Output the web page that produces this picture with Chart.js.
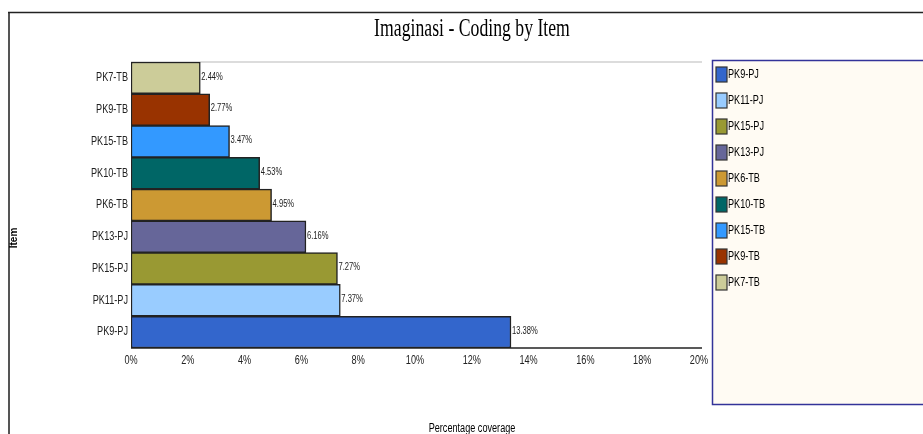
<!DOCTYPE html>
<html><head><meta charset="utf-8">
<script src="https://cdn.jsdelivr.net/npm/chart.js@4/dist/chart.umd.min.js"></script>
<style>html,body{margin:0;padding:0;background:#fff;}#wrap{width:923px;height:434px;position:relative;}</style>
</head><body><div id="wrap"><canvas id="c" width="923" height="434"></canvas></div>
<script>
const categories = ["PK9-PJ","PK11-PJ","PK15-PJ","PK13-PJ","PK6-TB","PK10-TB","PK15-TB","PK9-TB","PK7-TB"];
const coverage = [13.38, 7.37, 7.27, 6.16, 4.95, 4.53, 3.47, 2.77, 2.44];
const barColors = ["#3366CC","#99CCFF","#999933","#666699","#CC9933","#006666","#3399FF","#993300","#CCCC99"];
const xTicks = [0,2,4,6,8,10,12,14,16,18,20];
const titleText = "Imaginasi - Coding by Item";
const xTitle = "Percentage coverage";
const yTitle = "Item";

const SANS = "'Liberation Sans',Arial,sans-serif";
const SQ = 0.76;

function narrowText(ctx, text, x, y, align, font, color) {
  ctx.save();
  ctx.font = font; ctx.fillStyle = color;
  ctx.textAlign = align; ctx.textBaseline = 'middle';
  ctx.translate(x, y); ctx.scale(SQ, 1);
  ctx.fillText(text, 0, 0);
  ctx.restore();
}

const deco = {
  id: 'deco',
  beforeDraw(chart) {
    const ctx = chart.ctx, a = chart.chartArea;
    ctx.save();
    ctx.strokeStyle = '#555'; ctx.lineWidth = 2;
    ctx.beginPath(); ctx.moveTo(9, 12); ctx.lineTo(9, 434); ctx.stroke();
    ctx.strokeStyle = '#222'; ctx.lineWidth = 1.5;
    ctx.beginPath(); ctx.moveTo(8, 12.5); ctx.lineTo(923, 12.5); ctx.stroke();
    ctx.fillStyle = '#000';
    ctx.font = "23px 'Liberation Serif','Times New Roman',serif";
    ctx.textAlign = 'center'; ctx.textBaseline = 'middle';
    ctx.save(); ctx.translate(472, 30); ctx.scale(0.77, 1.05); ctx.fillText(titleText, 0, 0); ctx.restore();
    ctx.strokeStyle = '#dcdcdc'; ctx.lineWidth = 2;
    ctx.beginPath(); ctx.moveTo(a.left, a.top); ctx.lineTo(a.right + 3, a.top); ctx.stroke();
    // legend box
    ctx.fillStyle = '#FFFBF3';
    ctx.fillRect(712, 60, 215, 344);
    ctx.strokeStyle = '#333399'; ctx.lineWidth = 1.5;
    ctx.strokeRect(712.5, 60.5, 215, 344);
    categories.forEach((c, i) => {
      const y = 74 + i * 26;
      ctx.fillStyle = barColors[i];
      ctx.fillRect(716, y - 7, 11, 15);
      ctx.strokeStyle = '#333'; ctx.lineWidth = 1.2;
      ctx.strokeRect(716, y - 7, 11, 15);
      narrowText(ctx, c, 728, y + 1, 'left', "12px " + SANS, '#000');
    });
    narrowText(ctx, xTitle, 472, 429, 'center', "12px " + SANS, '#000');
    ctx.save(); ctx.translate(14, 238); ctx.rotate(-Math.PI / 2);
    ctx.font = "bold 10px " + SANS; ctx.fillStyle = '#000';
    ctx.textAlign = 'center'; ctx.textBaseline = 'middle';
    ctx.fillText(yTitle, 0, 0); ctx.restore();
    ctx.restore();
  },
  afterDatasetsDraw(chart) {
    const ctx = chart.ctx, a = chart.chartArea;
    const xs = chart.scales.x, ys = chart.scales.y;
    ctx.save();
    ctx.strokeStyle = '#222'; ctx.lineWidth = 1.5;
    ctx.beginPath(); ctx.moveTo(a.left, a.bottom); ctx.lineTo(a.right + 3, a.bottom); ctx.stroke();
    const meta = chart.getDatasetMeta(0);
    meta.data.forEach((bar, i) => {
      narrowText(ctx, coverage[i].toFixed(2) + '%', bar.x + 1, bar.y - 1, 'left', "10px " + SANS, '#222');
    });
    categories.forEach((c, i) => {
      narrowText(ctx, c, a.left - 3, ys.getPixelForValue(i), 'right', "12px " + SANS, '#222');
    });
    xTicks.forEach(v => {
      narrowText(ctx, v + '%', xs.getPixelForValue(v), a.bottom + 13, 'center', "12px " + SANS, '#222');
    });
    ctx.restore();
  }
};

new Chart(document.getElementById('c'), {
  type: 'bar',
  data: {
    labels: categories,
    datasets: [{
      data: coverage,
      backgroundColor: barColors,
      borderColor: '#222',
      borderWidth: 1.5,
      borderSkipped: false,
      barPercentage: 1,
      categoryPercentage: 1
    }]
  },
  options: {
    indexAxis: 'y',
    responsive: false,
    animation: false,
    devicePixelRatio: 1,
    layout: { padding: { left: 0, top: 62, right: 224, bottom: 0 } },
    plugins: { legend: { display: false }, tooltip: { enabled: false }, title: { display: false } },
    scales: {
      x: {
        min: 0, max: 20,
        afterBuildTicks: (s) => { s.ticks = xTicks.map(v => ({ value: v })); },
        afterFit: (s) => { s.height = 86; },
        grid: { display: false, drawTicks: false },
        border: { display: false },
        ticks: { display: false }
      },
      y: {
        reverse: true,
        afterFit: (s) => { s.width = 131; },
        grid: { display: false, drawTicks: false },
        border: { display: false },
        ticks: { display: false }
      }
    }
  },
  plugins: [deco]
});
</script></body></html>
